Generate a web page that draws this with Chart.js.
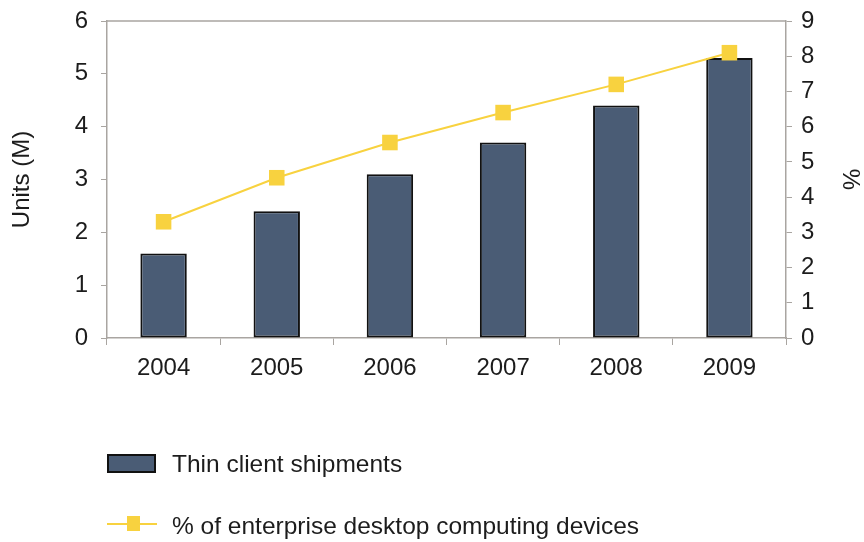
<!DOCTYPE html>
<html lang="en">
<head>
    <meta charset="UTF-8">
    <title>Thin Client Shipments</title>
    <script src="https://cdn.jsdelivr.net/npm/chart.js"></script>
    <style>
        html, body { margin: 0; padding: 0; background: #fff; }
        #wrap { width: 864px; height: 542px; }
    </style>
</head>
<body>
    <div id="wrap">
        <canvas id="shipChart" width="864" height="542"></canvas>
    </div>
    <script>
        const years = ['2004', '2005', '2006', '2007', '2008', '2009'];
        const shipments = [1.6, 2.4, 3.1, 3.7, 4.4, 5.3];        // units, millions
        const sharePct = [3.3, 4.55, 5.55, 6.4, 7.2, 8.1];       // % of enterprise desktops

        const barColor = '#4a5c75';
        const lineColor = '#f8d23f';
        const axisColor = '#a9a5a1';
        const textColor = '#1c1c1c';
        const fontFamily = '"Liberation Sans", Arial, sans-serif';

        // fixed axis widths so the plot box sits at the same place every time
        function fixWidth(w) {
            return function (scale) {
                scale.width = w;
                scale.paddingTop = 0;
                scale.paddingBottom = 0;
            };
        }

        // box around the plot (top edge has no axis of its own)
        const frame = {
            id: 'frame',
            beforeDatasetsDraw(chart) {
                const { ctx, chartArea: a } = chart;
                ctx.save();
                ctx.strokeStyle = axisColor;
                ctx.lineWidth = 1.5;
                ctx.beginPath();
                ctx.moveTo(a.left, a.top);
                ctx.lineTo(a.right, a.top);
                ctx.stroke();
                ctx.restore();
            }
        };

        // stacked legend under the chart
        const bottomLegend = {
            id: 'bottomLegend',
            afterDraw(chart) {
                const { ctx } = chart;
                const bar = chart.data.datasets[1];
                const line = chart.data.datasets[0];
                ctx.save();
                ctx.font = '24.5px ' + fontFamily;
                ctx.textBaseline = 'middle';

                ctx.fillStyle = bar.backgroundColor;
                ctx.fillRect(108, 455, 47, 17);
                ctx.strokeStyle = '#111';
                ctx.lineWidth = 2;
                ctx.strokeRect(108, 455, 47, 17);
                ctx.fillStyle = textColor;
                ctx.fillText(bar.label, 172, 465);

                ctx.strokeStyle = line.borderColor;
                ctx.lineWidth = 2;
                ctx.beginPath();
                ctx.moveTo(107, 524);
                ctx.lineTo(157, 524);
                ctx.stroke();
                ctx.fillStyle = line.pointBackgroundColor;
                ctx.fillRect(127, 516, 13, 15);
                ctx.fillStyle = textColor;
                ctx.fillText(line.label, 172, 527);
                ctx.restore();
            }
        };

        new Chart(document.getElementById('shipChart'), {
            data: {
                labels: years,
                datasets: [
                    {
                        type: 'line',
                        label: '% of enterprise desktop computing devices',
                        data: sharePct,
                        yAxisID: 'y1',
                        borderColor: lineColor,
                        borderWidth: 2,
                        pointStyle: 'rect',
                        pointRadius: 11,
                        pointBackgroundColor: lineColor,
                        pointBorderWidth: 0,
                        tension: 0,
                        order: 0
                    },
                    {
                        type: 'bar',
                        label: 'Thin client shipments',
                        data: shipments,
                        yAxisID: 'y',
                        backgroundColor: barColor,
                        borderColor: '#111',
                        borderWidth: 2,
                        borderSkipped: false,
                        barPercentage: 0.41,
                        categoryPercentage: 1,
                        order: 1
                    }
                ]
            },
            options: {
                responsive: false,
                animation: false,
                events: [],
                layout: { padding: { top: 21, left: 0, right: 0, bottom: 0 } },
                plugins: {
                    legend: { display: false },
                    tooltip: { enabled: false }
                },
                scales: {
                    x: {
                        afterFit(scale) { scale.height = 204; },
                        border: { display: true, color: axisColor, width: 1.5 },
                        grid: { drawOnChartArea: false, tickLength: 7, color: axisColor, offset: true },
                        ticks: { color: textColor, padding: 9, font: { size: 24, family: fontFamily } }
                    },
                    y: {
                        position: 'left',
                        min: 0,
                        max: 6,
                        afterFit: fixWidth(107),
                        border: { display: true, color: axisColor, width: 1.5 },
                        grid: { drawOnChartArea: false, tickLength: 6, color: axisColor },
                        ticks: { stepSize: 1, color: textColor, padding: 13, font: { size: 24, family: fontFamily } },
                        title: {
                            display: true,
                            text: 'Units (M)',
                            color: textColor,
                            padding: { top: 8, bottom: 0 },
                            font: { size: 24, family: fontFamily }
                        }
                    },
                    y1: {
                        position: 'right',
                        min: 0,
                        max: 9,
                        afterFit: fixWidth(78),
                        border: { display: true, color: axisColor, width: 1.5 },
                        grid: { drawOnChartArea: false, tickLength: 6, color: axisColor },
                        ticks: { stepSize: 1, color: textColor, padding: 9, font: { size: 24, family: fontFamily } },
                        title: {
                            display: true,
                            text: '%',
                            color: textColor,
                            padding: { top: 0, bottom: 0 },
                            font: { size: 24, family: fontFamily }
                        }
                    }
                }
            },
            plugins: [frame, bottomLegend]
        });
    </script>
</body>
</html>
